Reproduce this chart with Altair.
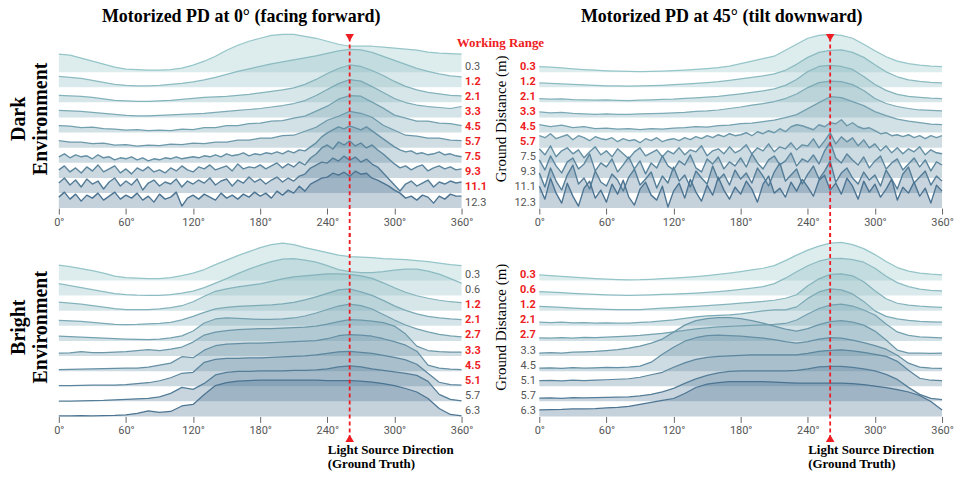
import altair as alt
import pandas as pd

# ---------------- data ----------------
ANG10 = list(range(0, 361, 10))
ANG5 = list(range(0, 361, 5))
LIGHT_DIR = 260

# Top-left: Motorized PD at 0 deg, dark environment
TL_LABELS = ["0.3", "1.2", "2.1", "3.3", "4.5", "5.7", "7.5", "9.3", "11.1", "12.3"]
TL_WORK = [0, 1, 1, 1, 1, 1, 1, 1, 1, 0]
TL_0 = [18,17,14,11,8,5,3,2.5,2,2,2.5,4,7,11,16,22,27,31,34,37,38,38,36,34,31,28,26,26,26,25,24,23,22,20,19,18.5,18]
TL_1 = [11,10,9,7,5,3,2,1.5,1.5,2,3,4,5.5,7.5,10,13,16,18.5,21,23.5,25.5,27.5,29.5,31.5,34,36.5,38,37.5,35,31,27,23,19,16,13.5,11.5,10.5]
TL_2 = [7,6.5,6,5,3.5,2,1.5,1,1,1.5,2,3,4,5,5.5,6,7,8,9.5,11,12.5,14.5,18,23,29,34,37.5,36,32,27,21,16,12.5,10,8.5,7,6.5]
TL_3 = [7,6.5,6,5,4,3,2,1.5,1.5,2,2.5,3,3.5,4,5,6,7,8,9,10.5,12,14,17,22,28,34,38,36.5,31,25,19,15,12.5,11,10,9,11]
TL_4 = [7,6.5,5,5.5,4,3.5,2.5,3,2,2.5,2,3.5,3,5,5,7,7,9,9.5,11.5,12,14.5,16.5,21.5,26.5,33.5,37,36.5,30.5,24.5,17.5,14.5,11.5,11.5,9.5,9,7]
TL_5 = [7,5.5,5.5,4,4.5,2.5,3,1.5,2.5,2,3.5,3,4.5,4,5.5,5.5,7.5,7.5,9.5,9.5,12,12.5,16.5,20.5,27.5,31.5,36.5,34.5,30.5,22.5,17.5,12.5,11.5,9.5,9.5,7.5,7]
TL_6 = [6,9,5,8,6,7,4,8,5,6,3,5,
        4,6,3,5,2,4,3,5,4,6,4,5,
        6,5,7,6,8,6,9,7,8,10,7,9,
        8,10,9,11,9,12,10,13,12,16,20,26,
        30,33,36,34,37,35,33,36,32,28,24,20,
        16,13,11,12,9,10,8,9,11,8,9,7,
        6]
TL_7 = [8,12,6,10,5,11,7,13,6,9,12,5,
        9,4,10,7,11,6,8,5,10,7,12,8,
        6,11,9,13,8,10,12,7,14,9,11,10,
        13,9,12,15,10,14,11,16,13,20,24,30,
        33,29,36,33,37,32,35,30,33,28,24,19,
        14,10,12,8,11,13,7,10,12,9,11,8,
        9]
TL_8 = [10,15,8,13,6,14,9,12,4,11,15,7,
        12,8,14,3,10,13,7,11,9,14,6,12,
        9,13,10,15,8,12,14,7,13,10,16,11,
        14,9,13,16,11,15,12,17,19,25,28,31,
        30,35,32,37,33,36,31,34,29,26,20,14,
        8,2,9,12,7,10,13,6,11,9,12,10,
        11]
TL_9 = [11,16,9,14,7,13,10,15,8,12,16,9,
        13,10,15,8,12,6,14,9,11,16,2,10,
        13,9,14,11,8,15,10,13,9,14,11,16,
        12,15,10,17,13,18,15,22,17,24,27,30,
        31,35,33,36,32,37,34,35,30,28,25,22,
        18,15,10,12,8,13,11,5,12,9,14,12,
        12]
TL_ROWS = [TL_0, TL_1, TL_2, TL_3, TL_4, TL_5, TL_6, TL_7, TL_8, TL_9]

# Top-right: Motorized PD at 45 deg, dark environment
TR_LABELS = ["0.3", "1.2", "2.1", "3.3", "4.5", "5.7", "7.5", "9.3", "11.1", "12.3"]
TR_WORK = [1, 1, 1, 1, 1, 1, 0, 0, 0, 0]
TR_0 = [5.5,5,4.2,3.4,2.6,2,1.4,1,0.7,0.6,0.7,1,1.5,2,2.7,3.5,4.5,6,8.5,11,13.5,16,22,28,34,37,38,37,34,28,21.5,15.5,11,8.5,7,6,5.5]
TR_1 = [4.3,3.8,3.3,2.8,2.3,1.8,1.5,1.3,1.2,1.3,1.6,2,2.6,3.2,3.8,4.6,5.6,7,8.5,10,11.5,13.5,17,23,30,35,37,37.5,35,30,22.5,15.5,10.5,7.5,6,5,4.5]
TR_2 = [3.7,3.2,3.6,2.8,2.5,2.2,2.4,2,1.8,2.2,2.5,3,3.2,4,4.6,5.2,6,7.2,8.6,10,11.5,13.5,17,23,31,36,37,36,33,26,18,12,8,6,5,4.2,3.8]
TR_3 = [5.5,4.5,5,4,3.5,3,3.5,3,3.2,3.6,3.8,4.2,4.5,5,6,6.5,7.5,9,10.5,12.5,14,16,19,23.5,30,35,36.5,36,33,27,19,14,11,9,7.5,7,6.5]
TR_4 = [8,6,7.5,5,6,4,4.5,3.5,4,3,4,3.5,4.5,5,6,5.5,7,7.5,9,9.5,11,12.5,15,18,24,30,36,35,31,27,21,17,13.5,11.5,10,8.5,8]
TR_5 = [12,10,14,9,11,13,8,12,10,7,11,9,
        8,10,6,9,7,8,5,9,7,10,6,8,
        9,7,10,8,11,9,12,10,13,11,14,12,
        13,15,12,16,14,17,15,19,16,21,23,22,
        20,18,23,21,25,24,28,22,25,21,19,20,
        17,14,15,12,13,11,13,10,12,9,12,10,
        12]
TR_6 = [14,8,17,6,12,15,9,13,5,11,16,8,
        12,6,14,9,4,11,15,7,10,13,6,12,
        9,15,8,13,11,17,7,12,14,9,16,10,
        13,18,9,15,12,19,11,16,14,20,13,18,
        17,24,15,22,30,19,26,21,25,17,23,15,
        19,12,17,10,15,9,14,11,16,8,13,10,
        9]
TR_7 = [18,8,22,12,5,16,20,9,14,24,7,15,
        11,19,6,13,21,9,17,4,15,10,22,12,
        8,17,13,23,10,6,19,14,21,9,16,12,
        20,11,24,15,9,18,22,13,17,25,12,19,
        16,23,14,27,36,20,15,24,18,13,21,10,
        17,22,9,15,19,8,14,20,11,18,7,16,
        13]
TR_8 = [20,6,25,12,3,18,28,9,15,4,22,11,
        7,19,13,2,16,24,8,14,21,5,17,10,
        26,12,18,6,22,15,9,27,13,19,8,23,
        14,20,10,25,17,7,21,30,12,18,24,9,
        19,27,14,22,32,11,20,25,15,9,21,13,
        18,7,23,14,4,19,26,10,16,22,8,17,
        12]
TR_9 = [22,9,30,15,5,25,12,2,20,27,10,18,
        6,24,14,28,11,3,19,26,13,8,22,1,
        17,25,10,29,16,7,23,13,31,18,9,21,
        14,27,19,6,24,32,15,20,11,26,17,29,
        21,12,28,33,18,25,14,30,22,9,27,16,
        24,11,19,29,8,21,15,26,12,20,5,23,
        17]
TR_ROWS = [TR_0, TR_1, TR_2, TR_3, TR_4, TR_5, TR_6, TR_7, TR_8, TR_9]

# Bottom-left: Motorized PD at 0 deg, bright environment
BL_LABELS = ["0.3", "0.6", "1.2", "2.1", "2.7", "3.3", "4.5", "5.1", "5.7", "6.3"]
BL_WORK = [0, 0, 1, 1, 1, 1, 1, 1, 0, 0]
BL_0 = [15.5,14,12,10,7.5,4.5,3,2.5,2,2,3,5,7.5,11,16,20.5,25,29,33,36,37.5,36,33,30.5,28,25.5,24,23.5,23,22,21.5,21,20,19,17.5,16,15]
BL_1 = [12,10,8,6,4,2,1,0.5,0.3,0.3,1,2.5,4.5,8,12.5,17,22,26.5,30.5,34,36.5,37,35.5,33.5,30,26,24,23,23,24,25.5,26.5,26.5,24.5,21.5,17,12.5]
BL_2 = [8.5,7.5,6.5,5,3.5,2,1.2,1,1.2,1.8,3,5,9,14.5,19.5,22,24,25.5,27,29.5,32,34,35,36,37,37,36.5,35,32.5,28,23,18.5,15,12.5,10.5,9,8]
BL_3 = [5.5,5,4.5,3.5,2.5,1.5,1.3,1.5,2,2.5,3.5,6,9.5,13.5,17,18.5,19.5,20,20.5,21,22,23.5,26,29,32.5,36,37,34,30.5,25.5,20,15.5,12,9.5,8,7,6.3]
BL_4 = [4.7,4.2,3.8,3.2,2.8,2.3,1.8,1.5,1.3,1.8,3,5,10,18,22,23,22.5,22,21.5,21.5,22,23,25,28,31.5,35,37,35.5,32,26.5,21,16,12,9,6.5,5,4]
BL_5 = [3,3.2,4.5,3.5,3.5,4,4.5,5.5,6.5,5.5,7,9,14,21,24,25.5,26.5,27,27.5,27.5,28,28.5,29,30,32,34.5,36.5,36,35,33.5,30,22,10,5.5,4.5,4,4]
BL_6 = [1.5,1.8,2,2.2,2.5,2.8,3,3,4,6,8,14.5,13.5,21,25.5,27,27.5,28,28,28.5,29,29.5,30,30.5,32.5,35.5,36.5,36,35,32.5,29.5,26,20,6,3,2,1.5]
BL_7 = [0.5,0.5,0.8,1,1,1.2,1.5,2.5,3.5,5.5,8.5,13,14,24,27,28,28,28.5,28.5,29,29.5,30,30.5,31.5,33,34.5,35,34,33,31,29,26.5,22,13,4,1.5,1]
BL_8 = [0.3,0.3,0.5,0.8,1,1.5,2,2.5,3,4.5,8,14,12,18,26.5,29,30,30,30.5,30.5,30.5,31,31,31.5,32.5,34.5,35.5,34.5,32.5,31,29.5,28,26,20,7,2,0.5]
BL_9 = [0.5,0.5,0.8,0.5,0.8,1,1.5,3,5.5,4,5,10.5,12,22,31,34,35.5,36,36.5,36.5,36.5,36.5,36.5,36.5,36,36,36,35.5,34.5,33,31,28,24.5,18,8,2,0.5]
BL_ROWS = [BL_0, BL_1, BL_2, BL_3, BL_4, BL_5, BL_6, BL_7, BL_8, BL_9]

# Bottom-right: Motorized PD at 45 deg, bright environment
BR_LABELS = ["0.3", "0.6", "1.2", "2.1", "2.7", "3.3", "4.5", "5.1", "5.7", "6.3"]
BR_WORK = [1, 1, 1, 1, 1, 0, 0, 0, 0, 0]
BR_0 = [5.7,5,4.2,3.4,2.6,2,1.4,1,0.7,0.8,1.2,1.8,2.5,3.2,4,5,6.2,7.5,9,10.7,12.3,15,20,25.5,30.5,34.5,37.5,38.3,36,32,26,19,13,9.5,7.5,6.3,5.7]
BR_1 = [4,3.5,3,2.3,1.7,1.2,0.7,0.4,0.3,0.4,0.7,1.2,1.6,2,2.5,3.2,4,5,6.2,7.5,9,12,17.5,24,30,34.5,37,37.3,36,33.5,27.5,19.5,13,9,6.5,5.2,4.7]
BR_2 = [4.3,3.8,3.3,2.7,2.2,1.8,1.4,1.1,1,1.2,1.8,2.5,3.2,3.8,4.3,5,5.8,6.6,7.5,8.4,9.3,10.5,12.5,16,25,32,36.5,37,35,29,20,12,7.5,5.5,4.5,3.8,3.3]
BR_3 = [3.7,3.2,3.6,3,3.3,2.8,3,2.6,2.8,3.5,4,5,6,7.5,9,10,10.5,11,12,13.5,15,16,16,19,27.5,34,37,36,32,24.5,15,9.5,7,5.5,4.5,4,3.7]
BR_4 = [3,2.7,3.2,2.8,3.5,3.2,3.8,4.2,4.8,5.5,6.5,7.5,9,10.5,12,13,14,14.5,15,15.5,16,16.5,17.5,21,27,32.5,36,37,35,31,26,17,9,5.5,4,3.5,3]
BR_5 = [3,3.5,3,3.8,4.2,4.7,5.5,6.5,8,10,13,17,24,31,35.5,37.5,38.5,38.5,37.5,35.5,33,30,27,25,27.5,31.5,34.5,35.5,34,31,25,16,6,3,3,2.7,3]
BR_6 = [3,3.3,2.8,3.5,3,3.3,3.8,3.5,4,5,9,17,24,30,33.5,35.5,36,35.5,35,34,33,31.5,29.5,28,29.5,32,33.5,33,31,28.5,25.5,22,16,8,4,3,2.8]
BR_7 = [5.5,5.8,5.3,6,5.7,6.2,6.5,7,7.5,9,11.5,14,19,23.5,27,29,30,30.5,31,31.5,31.5,31.5,31.5,31.5,33,35,36,36.5,35.5,34,32,30,25,16,8,6,5.5]
BR_8 = [3.3,3.5,3,3.6,3.4,3.8,4,4.2,4.5,5.5,7,9.5,13,18,22.5,26,28.5,30,30.5,30.5,30.5,30.5,30.5,31,32.5,34.5,35,35,34,32.5,30.5,27,22,14,7,3,1.8]
BR_9 = [6.5,6.8,7,7.5,7.5,7.8,8.5,9,10,12,14,16,18,23,29,32.5,34,35,35,35,35,34.5,34,33.5,33.5,33.5,33.5,33.5,33,32,30.5,29,27,24.5,21,15,6.5]
BR_ROWS = [BR_0, BR_1, BR_2, BR_3, BR_4, BR_5, BR_6, BR_7, BR_8, BR_9]

# ---------------- style ----------------
SERIF = "Liberation Serif"
SANS = "Roboto"
RED = "#ee1c23"
GRAY = "#555555"
PALETTE = ["#95c5c8", "#8cbcc2", "#84b3bc", "#7caab6", "#74a1b0",
           "#6c98aa", "#648fa4", "#5c869e", "#547d98", "#4c7492"]
SP = 15.15          # vertical spacing between ridge baselines (px)
YMAX = 180          # plot height in px (1 unit = 1 px)
LABEL_RAISE = 5.5
W, H = 404, 180

XS = alt.Scale(domain=[0, 360], nice=False, zero=False)
YS = alt.Scale(domain=[0, YMAX], nice=False, zero=False)
CS = alt.Scale(domain=[str(i) for i in range(10)], range=PALETTE)

XAX = alt.Axis(values=[0, 60, 120, 180, 240, 300, 360], labelExpr="datum.value + '°'",
               title=None, grid=False, domain=False, ticks=True, tickSize=6,
               tickColor="#666666", labelColor=GRAY, labelFont=SANS, labelFontSize=11,
               labelPadding=2, labelFlush=False, labelOverlap=False)


def ridge_df(rows):
    recs = []
    n = len(rows)
    for i, vals in enumerate(rows):
        fine = len(vals) != len(ANG10)
        angs = ANG5 if fine else ANG10
        base = (n - 1 - i) * SP
        for a, v in zip(angs, vals):
            recs.append({"angle": a, "y": base + v, "base": base, "row": str(i),
                         "noisy": int(fine)})
    return pd.DataFrame(recs)


def panel(rows, labels, work, left, top, title=None):
    n = len(rows)
    df = ridge_df(rows)
    lab = pd.DataFrame({
        "angle": [360 if left else 0] * n,
        "y": [(n - 1 - i) * SP + LABEL_RAISE for i in range(n)],
        "label": labels,
        "work": work,
    })
    if left:
        yax = alt.Axis(title=["Dark", "Environment"] if top else ["Bright", "Environment"],
                       labels=False, ticks=False, domain=False, grid=False,
                       titleFont=SERIF, titleFontSize=20, titleFontWeight="bold",
                       titleColor="black", titlePadding=8, titleLineHeight=22, minExtent=0)
    else:
        yax = alt.Axis(title="Ground Distance (m)", labels=False, ticks=False, domain=False,
                       grid=False, titleFont=SERIF, titleFontSize=15, titleFontWeight="normal",
                       titleColor="black", titlePadding=31, minExtent=0)
    X = alt.X("angle:Q", scale=XS, axis=XAX)
    Y = alt.Y("y:Q", scale=YS, axis=yax)
    C = alt.Color("row:N", scale=CS, legend=None)

    base_ch = alt.Chart(df)
    area = base_ch.mark_area(fillOpacity=0.32, strokeWidth=0).encode(
        x=X, y=Y, y2="base:Q", color=C)
    line_s = base_ch.transform_filter("datum.noisy == 0").mark_line(
        strokeWidth=1.25, strokeJoin="round").encode(x=X, y=Y, color=C)
    line_n = base_ch.transform_filter("datum.noisy == 1").mark_line(
        strokeWidth=1.4, strokeJoin="round").encode(x=X, y=Y, color=C)

    align = "left" if left else "right"
    dx = 3.5 if left else -3.5
    lab_red = alt.Chart(lab).transform_filter("datum.work == 1").mark_text(
        align=align, baseline="middle", dx=dx, font=SANS, fontSize=11,
        fontWeight="bold", color=RED).encode(x=X, y=Y, text="label:N")
    lab_gray = alt.Chart(lab).transform_filter("datum.work == 0").mark_text(
        align=align, baseline="middle", dx=dx, font=SANS, fontSize=11,
        fontWeight="normal", color=GRAY).encode(x=X, y=Y, text="label:N")

    if top:
        rule_df = pd.DataFrame({"angle": [LIGHT_DIR], "y": [171], "y2": [-31]})
        tri_df = pd.DataFrame({"angle": [LIGHT_DIR], "y": [171]})
        shape = "triangle-down"
    else:
        rule_df = pd.DataFrame({"angle": [LIGHT_DIR], "y": [184], "y2": [-22]})
        tri_df = pd.DataFrame({"angle": [LIGHT_DIR], "y": [-22]})
        shape = "triangle-up"
    rule = alt.Chart(rule_df).mark_rule(color=RED, strokeDash=[4, 3], strokeWidth=1.8).encode(
        x=X, y=Y, y2="y2:Q")
    tri = alt.Chart(tri_df).mark_point(shape=shape, filled=True, size=75, color=RED,
                                       opacity=1, strokeWidth=0).encode(x=X, y=Y)

    layers = [area, line_s, line_n, rule, tri, lab_red, lab_gray]

    if top and left:
        wr_df = pd.DataFrame({"angle": [360], "y": [166]})
        layers.append(alt.Chart(wr_df).mark_text(
            text="Working Range", align="center", baseline="middle", dx=39,
            font=SERIF, fontSize=13, fontWeight="bold", color=RED).encode(x=X, y=Y))
    if not top:
        ls_df = pd.DataFrame({"angle": [LIGHT_DIR], "y": [-28]})
        layers.append(alt.Chart(ls_df).mark_text(
            text=["Light Source Direction", "(Ground Truth)"], align="left", baseline="top",
            dx=-22, font=SERIF, fontSize=13, fontWeight="bold", color="black",
            lineHeight=14).encode(x=X, y=Y))

    ch = alt.layer(*layers).properties(width=W, height=H)
    if title:
        ch = ch.properties(title=alt.TitleParams(
            text=title, font=SERIF, fontSize=18, fontWeight="bold", color="black",
            anchor="middle", dx=-19, offset=3))
    return ch


TL = panel(TL_ROWS, TL_LABELS, TL_WORK, left=True, top=True,
           title="Motorized PD at 0° (facing forward)")
TR = panel(TR_ROWS, TR_LABELS, TR_WORK, left=False, top=True,
           title="Motorized PD at 45° (tilt downward)")
BL = panel(BL_ROWS, BL_LABELS, BL_WORK, left=True, top=False)
BR = panel(BR_ROWS, BR_LABELS, BR_WORK, left=False, top=False)

chart = alt.concat(
    TL, TR, BL, BR, columns=2,
    spacing={"row": 29, "column": 78}, bounds="flush",
).properties(
    padding={"left": 9, "top": 7, "right": 0, "bottom": 0}
).configure_view(stroke=None)

chart.save("out.html", embed_options={"renderer": "svg", "actions": False})
